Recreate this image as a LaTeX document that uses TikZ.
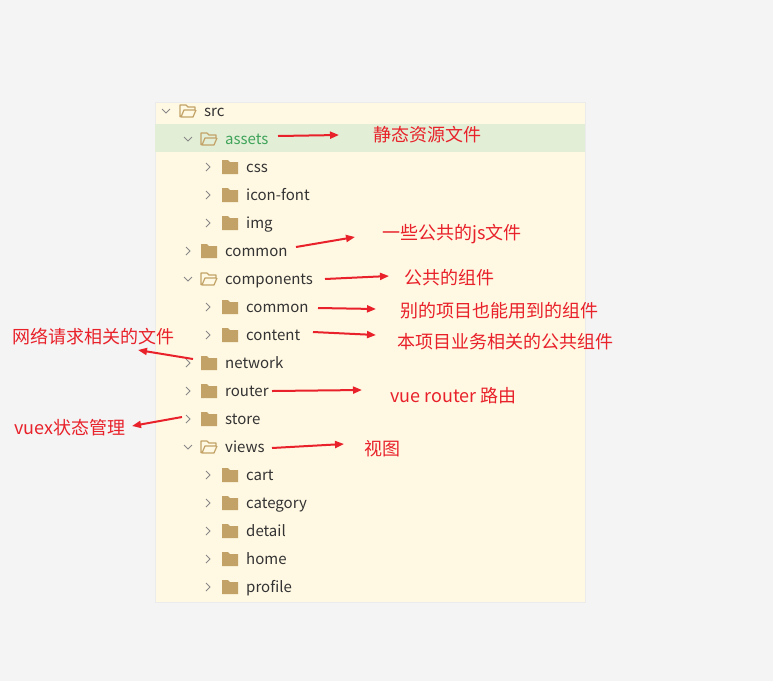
\documentclass[tikz,border=0pt]{standalone}
\usepackage{fontspec}
\setmainfont{Noto Sans CJK SC}
\usetikzlibrary{arrows.meta}
\definecolor{bgc}{HTML}{F4F4F4}
\definecolor{panel}{HTML}{FFF8E3}
\definecolor{hl}{HTML}{E2EFD6}
\definecolor{fold}{HTML}{C2A266}
\definecolor{txt}{HTML}{333333}
\definecolor{grn}{HTML}{3FA35A}
\definecolor{chev}{HTML}{888888}
\definecolor{red}{HTML}{E8212A}
\tikzset{
 item/.style={anchor=base west,inner sep=0pt,font=\fontsize{15}{15}\selectfont,text=txt,yshift=-5pt},
 note/.style={anchor=west,inner sep=0pt,font=\fontsize{18}{18}\selectfont,text=red},
 arr/.style={red,line width=2pt,-{Triangle[length=9pt,width=7pt]}}
}
\newcommand{\closedf}[2]{\fill[fold] (#1,#2-7) -- (#1+6,#2-7) -- (#1+8,#2-5) -- (#1+16,#2-5) -- (#1+16,#2+7) -- (#1,#2+7) -- cycle;}
\newcommand{\openf}[2]{\draw[fold,line width=1.2pt,line join=round] (#1,#2+6) -- (#1,#2-6) -- (#1+6,#2-6) -- (#1+8,#2-4) -- (#1+15,#2-4) -- (#1+15,#2-1) -- (#1+4,#2-1) -- (#1+1,#2+6) -- (#1+13,#2+6) -- (#1+16,#2-1);}
\newcommand{\chevr}[2]{\draw[chev,line width=0.8pt] (#1-2,#2-4) -- (#1+2,#2) -- (#1-2,#2+4);}
\newcommand{\chevd}[2]{\draw[chev,line width=0.8pt] (#1-4,#2-2) -- (#1,#2+2) -- (#1+4,#2-2);}
\begin{document}
\begin{tikzpicture}[x=1pt,y=-1pt]
\fill[bgc] (0,0) rectangle (773,681);
\useasboundingbox (0,0) rectangle (773,681);
\fill[panel] (155,102) rectangle (585,602);
\draw[black!8] (155,102) rectangle (585,602);
\fill[hl] (155,124) rectangle (585,152);
\chevd{166}{111}\openf{180}{111}\node[item] (src) at (204,111) {src};
\chevd{188}{139}\openf{201}{139}\node[item,text=grn] (assets) at (225,139) {assets};
\chevr{208}{167}\closedf{222}{167}\node[item] (css) at (246,167) {css};
\chevr{208}{195}\closedf{222}{195}\node[item] (icon) at (246,195) {icon-font};
\chevr{208}{223}\closedf{222}{223}\node[item] (img) at (246,223) {img};
\chevr{188}{251}\closedf{201}{251}\node[item] (common) at (225,251) {common};
\chevd{188}{279}\openf{201}{279}\node[item] (comp) at (225,279) {components};
\chevr{208}{307}\closedf{222}{307}\node[item] (ccommon) at (246,307) {common};
\chevr{208}{335}\closedf{222}{335}\node[item] (content) at (246,335) {content};
\chevr{188}{363}\closedf{201}{363}\node[item] (network) at (225,363) {network};
\chevr{188}{391}\closedf{201}{391}\node[item] (router) at (225,391) {router};
\chevr{188}{419}\closedf{201}{419}\node[item] (store) at (225,419) {store};
\chevd{188}{447}\openf{201}{447}\node[item] (views) at (225,447) {views};
\chevr{208}{475}\closedf{222}{475}\node[item] (cart) at (246,475) {cart};
\chevr{208}{503}\closedf{222}{503}\node[item] (cat) at (246,503) {category};
\chevr{208}{531}\closedf{222}{531}\node[item] (detail) at (246,531) {detail};
\chevr{208}{559}\closedf{222}{559}\node[item] (home) at (246,559) {home};
\chevr{208}{587}\closedf{222}{587}\node[item] (profile) at (246,587) {profile};
\node[note] (n1) at (373,135) {静态资源文件};
\node[note] (n2) at (382,234) {一些公共的js文件};
\node[note] (n3) at (404,278) {公共的组件};
\node[note] (n4) at (400,311) {别的项目也能用到的组件};
\node[note] (n5) at (397,342) {本项目业务相关的公共组件};
\node[note] (n6) at (12,337) {网络请求相关的文件};
\node[note] (n7) at (390,396) {vue router 路由};
\node[note] (n8) at (14,428) {vuex状态管理};
\node[note] (n9) at (364,449) {视图};
\coordinate (a1s) at (278,136); \coordinate (a1e) at (339,135);
\coordinate (a2s) at (296,247); \coordinate (a2e) at (355,237);
\coordinate (a3s) at (325,279); \coordinate (a3e) at (389,276);
\coordinate (a4s) at (318,308); \coordinate (a4e) at (376,309);
\coordinate (a5s) at (313,332); \coordinate (a5e) at (376,335);
\coordinate (a6s) at (193,359); \coordinate (a6e) at (138,350);
\coordinate (a7s) at (272,391); \coordinate (a7e) at (362,390);
\coordinate (a8s) at (182,417); \coordinate (a8e) at (132,426);
\coordinate (a9s) at (272,448); \coordinate (a9e) at (344,444);
\foreach \i in {1,...,9} \draw[arr] (a\i s) -- (a\i e);
\end{tikzpicture}
\end{document}
